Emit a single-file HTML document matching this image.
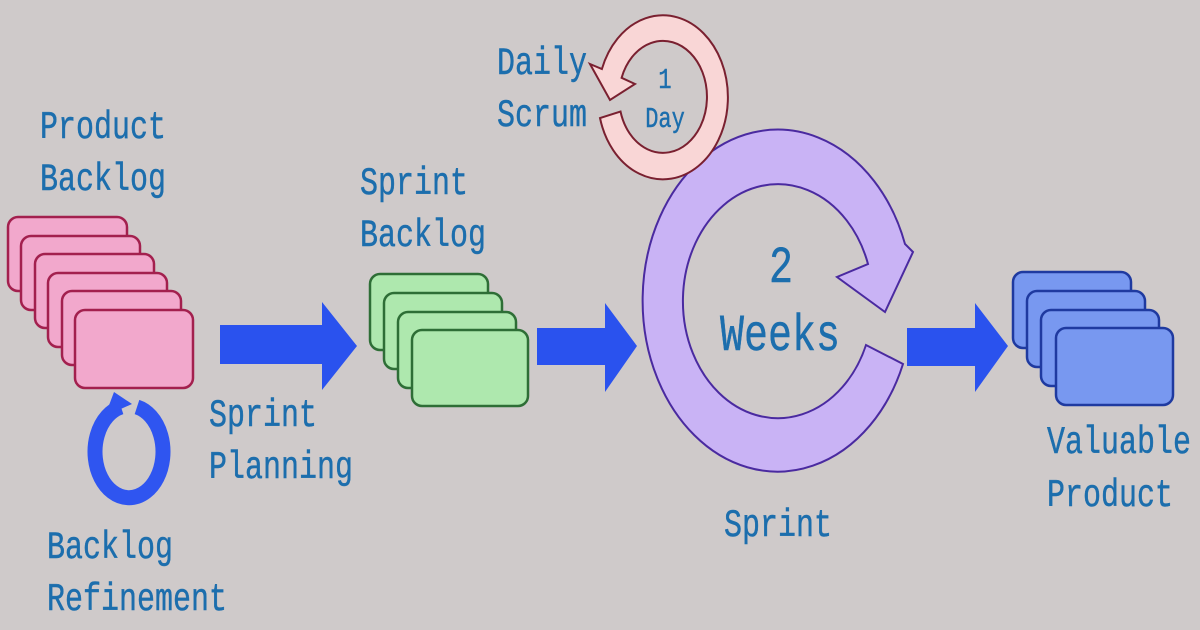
<!DOCTYPE html>
<html><head><meta charset="utf-8"><style>
html,body{margin:0;padding:0;}
body{width:1200px;height:630px;background:#cfcaca;overflow:hidden;}
svg{display:block;}
text{font-family:"Liberation Mono",monospace;fill:#1c6ead;stroke:#1c6ead;stroke-width:0.35;}
</style></head><body>
<svg width="1200" height="630" viewBox="0 0 1200 630">
<!-- pink cards -->
<g fill="#f2a8cc" stroke="#a3204e" stroke-width="2.5">
<rect x="8" y="217" width="119" height="74" rx="10"/>
<rect x="21" y="236" width="119" height="74" rx="10"/>
<rect x="35" y="254" width="119" height="74" rx="10"/>
<rect x="48" y="273" width="119" height="74" rx="10"/>
<rect x="62" y="291" width="119" height="74" rx="10"/>
<rect x="75" y="310" width="118" height="78" rx="10"/>
</g>
<!-- refresh icon -->
<path d="M137 407 A34 46 0 1 1 121 407" fill="none" stroke="#2f55f0" stroke-width="15"/>
<polygon points="105,416 114,392 132,404" fill="#2f55f0"/>
<!-- arrows -->
<g fill="#2a52ee">
<polygon points="220,325 322,325 322,302 357,346 322,390 322,364 220,364"/>
<polygon points="537,328 605,328 605,303 637,346 605,392 605,365 537,365"/>
<polygon points="907,328 975,328 975,303 1008,346 975,392 975,366 907,366"/>
</g>
<!-- green cards -->
<g fill="#aee8ae" stroke="#2e6e36" stroke-width="2.5">
<rect x="370" y="274" width="118" height="76" rx="10"/>
<rect x="384" y="293" width="118" height="76" rx="10"/>
<rect x="398" y="312" width="118" height="76" rx="10"/>
<rect x="412" y="330" width="116" height="76" rx="10"/>
</g>
<!-- blue cards -->
<g fill="#7898f0" stroke="#1f3aa0" stroke-width="2.5">
<rect x="1013" y="272" width="118" height="76" rx="10"/>
<rect x="1027" y="291" width="118" height="76" rx="10"/>
<rect x="1041" y="310" width="118" height="76" rx="10"/>
<rect x="1056" y="328" width="117" height="77" rx="10"/>
</g>
<!-- purple ring -->
<path d="M903 364 A135 171 0 1 1 905 244 L913 252 L885 312 L837 277 L868 264 A95 117 0 1 0 866 345 Z" fill="#c9b3f5" stroke="#4a2aa0" stroke-width="2"/>
<!-- pink ring -->
<path d="M600 118 A65 82 0 1 0 601.9 69 L590 64 L610 100 L635 84 L621.6 77.8 A44 56 0 1 1 620.5 111.5 Z" fill="#f9d6d6" stroke="#7a2030" stroke-width="2"/>
<!-- labels -->
<g font-size="30">
<text transform="translate(40 138) scale(1 1.3)">Product</text>
<text transform="translate(40 190) scale(1 1.3)">Backlog</text>
<text transform="translate(360 194) scale(1 1.3)">Sprint</text>
<text transform="translate(360 246) scale(1 1.3)">Backlog</text>
<text transform="translate(497 74) scale(1 1.3)">Daily</text>
<text transform="translate(497 126) scale(1 1.3)">Scrum</text>
<text transform="translate(209 426) scale(1 1.3)">Sprint</text>
<text transform="translate(209 478) scale(1 1.3)">Planning</text>
<text transform="translate(47 558) scale(1 1.3)">Backlog</text>
<text transform="translate(47 610) scale(1 1.3)">Refinement</text>
<text transform="translate(724 536) scale(1 1.3)">Sprint</text>
<text transform="translate(1047 453) scale(1 1.3)">Valuable</text>
<text transform="translate(1047 506) scale(1 1.3)">Product</text>
</g>
<g font-size="40" text-anchor="middle">
<text transform="translate(781 282) scale(1 1.3)">2</text>
<text transform="translate(780 350) scale(1 1.3)">Weeks</text>
</g>
<g font-size="22" text-anchor="middle" style="stroke-width:0.2">
<text transform="translate(665 88) scale(1 1.3)">1</text>
<text transform="translate(665 127) scale(1 1.3)">Day</text>
</g>
</svg>
</body></html>
